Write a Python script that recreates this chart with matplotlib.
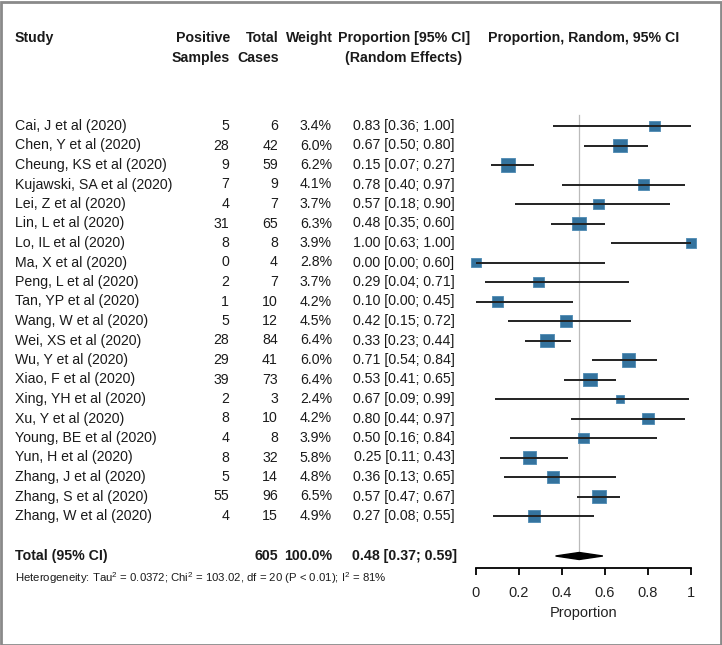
import numpy as np
import matplotlib
matplotlib.use("Agg")
import matplotlib.pyplot as plt
from matplotlib.transforms import blended_transform_factory
from matplotlib.patches import Rectangle, Polygon

plt.rcParams['font.family'] = ['Liberation Sans', 'DejaVu Sans']
plt.rcParams['mathtext.fontset'] = 'custom'
plt.rcParams['mathtext.rm'] = 'Liberation Sans'

studies = ['Cai, J et al (2020)', 'Chen, Y et al (2020)', 'Cheung, KS et al (2020)',
           'Kujawski, SA et al (2020)', 'Lei, Z et al (2020)', 'Lin, L et al (2020)',
           'Lo, IL et al (2020)', 'Ma, X et al (2020)', 'Peng, L et al (2020)',
           'Tan, YP et al (2020)', 'Wang, W et al (2020)', 'Wei, XS et al (2020)',
           'Wu, Y et al (2020)', 'Xiao, F et al (2020)', 'Xing, YH et al (2020)',
           'Xu, Y et al (2020)', 'Young, BE et al (2020)', 'Yun, H et al (2020)',
           'Zhang, J et al (2020)', 'Zhang, S et al (2020)', 'Zhang, W et al (2020)']
positive = [5, 28, 9, 7, 4, 31, 8, 0, 2, 1, 5, 28, 29, 39, 2, 8, 4, 8, 5, 55, 4]
total = [6, 42, 59, 9, 7, 65, 8, 4, 7, 10, 12, 84, 41, 73, 3, 10, 8, 32, 14, 96, 15]
weight = [3.4, 6.0, 6.2, 4.1, 3.7, 6.3, 3.9, 2.8, 3.7, 4.2, 4.5, 6.4, 6.0, 6.4, 2.4,
          4.2, 3.9, 5.8, 4.8, 6.5, 4.9]
prop = [0.83, 0.67, 0.15, 0.78, 0.57, 0.48, 1.00, 0.00, 0.29, 0.10, 0.42, 0.33, 0.71,
        0.53, 0.67, 0.80, 0.50, 0.25, 0.36, 0.57, 0.27]
lower = [0.36, 0.50, 0.07, 0.40, 0.18, 0.35, 0.63, 0.00, 0.04, 0.00, 0.15, 0.23, 0.54,
         0.41, 0.09, 0.44, 0.16, 0.11, 0.13, 0.47, 0.08]
upper = [1.00, 0.80, 0.27, 0.97, 0.90, 0.60, 1.00, 0.60, 0.71, 0.45, 0.72, 0.44, 0.84,
         0.65, 0.99, 0.97, 0.84, 0.43, 0.65, 0.67, 0.55]
pooled = [0.48, 0.37, 0.59]
total_cases = 605
ticks = [0, 0.2, 0.4, 0.6, 0.8, 1]
tick_labels = ['0', '0.2', '0.4', '0.6', '0.8', '1']

W, H = 722, 645
fig = plt.figure(figsize=(W / 100, H / 100), dpi=100)

# forest panel, y measured in pixels from top of figure
ax_bottom = 568
ax = fig.add_axes([476 / W, (H - ax_bottom) / H, 215 / W, ax_bottom / H])
ax.set_xlim(0, 1)
ax.set_ylim(ax_bottom, 0)
for s in ['top', 'right', 'left']:
    ax.spines[s].set_visible(False)
ax.spines['bottom'].set_linewidth(1.3)
ax.set_yticks([])
ax.set_xticks(ticks)
ax.set_xticklabels(tick_labels, fontsize=10.5, color='#222222')
ax.tick_params(axis='x', length=5, width=1.3, pad=8)
ax.set_xlabel('Proportion', fontsize=10.5, labelpad=4, color='#222222')
ax.patch.set_alpha(0)

row_y0, row_step = 126, 19.5
ys = row_y0 + row_step * np.arange(len(studies))
y_total = 556

ax.plot([pooled[0], pooled[0]], [115, y_total - 4], color='#bbbbbb', lw=0.9, zorder=1)
sizes = (8.5 * np.sqrt(np.array(weight) / 2.4) * 0.72) ** 2
ax.scatter(prop, ys, s=sizes, marker='s', color='#34739e', edgecolors='#4d8ab3',
           linewidths=0.6, zorder=2, clip_on=False)
ax.hlines(ys, lower, upper, color='#222222', lw=1.4, zorder=3)
dia = Polygon([[pooled[1], y_total], [pooled[0], y_total - 3.5],
               [pooled[2], y_total], [pooled[0], y_total + 3.5]],
              closed=True, color='black', zorder=3)
ax.add_patch(dia)

tr = blended_transform_factory(fig.transFigure, ax.transData)
fs = 10.2


def put(xpx, y, s, ha='left', bold=False, size=fs):
    ax.text(xpx / W, y, s, transform=tr, ha=ha, va='center', fontsize=size,
            fontweight='bold' if bold else 'normal', color='#1a1a1a')


# header
put(15, 38, 'Study', bold=True)
put(230, 38, 'Positive', ha='right', bold=True)
put(230, 58, 'Samples', ha='right', bold=True)
put(279, 38, 'Total', ha='right', bold=True)
put(279, 58, 'Cases', ha='right', bold=True)
put(333, 38, 'Weight', ha='right', bold=True)
put(404, 38, 'Proportion [95% CI]', ha='center', bold=True)
put(404, 58, '(Random Effects)', ha='center', bold=True)
put(584, 38, 'Proportion, Random, 95% CI', ha='center', bold=True)

for i, y in enumerate(ys):
    put(15, y, studies[i])
    put(229, y, str(positive[i]), ha='right')
    put(278, y, str(total[i]), ha='right')
    put(332, y, f'{weight[i]:.1f}%', ha='right')
    put(404, y, f'{prop[i]:.2f} [{lower[i]:.2f}; {upper[i]:.2f}]', ha='center')

put(15, y_total, 'Total (95% CI)', bold=True)
put(278, y_total, str(total_cases), ha='right', bold=True)
put(332, y_total, '100.0%', ha='right', bold=True)
put(404, y_total, f'{pooled[0]:.2f} [{pooled[1]:.2f}; {pooled[2]:.2f}]', ha='center', bold=True)
put(15, 578, r'Heterogeneity: Tau$^2$ = 0.0372; Chi$^2$ = 103.02, df = 20 (P < 0.01); I$^2$ = 81%',
    size=8.2)

fig.patches.append(Rectangle((0.5 / W, 0.5 / H), 1 - 2 / W, 1 - 2 / H, transform=fig.transFigure,
                             fill=False, edgecolor='#8a8a8a', lw=2))

fig.savefig('out.png', dpi=100)
